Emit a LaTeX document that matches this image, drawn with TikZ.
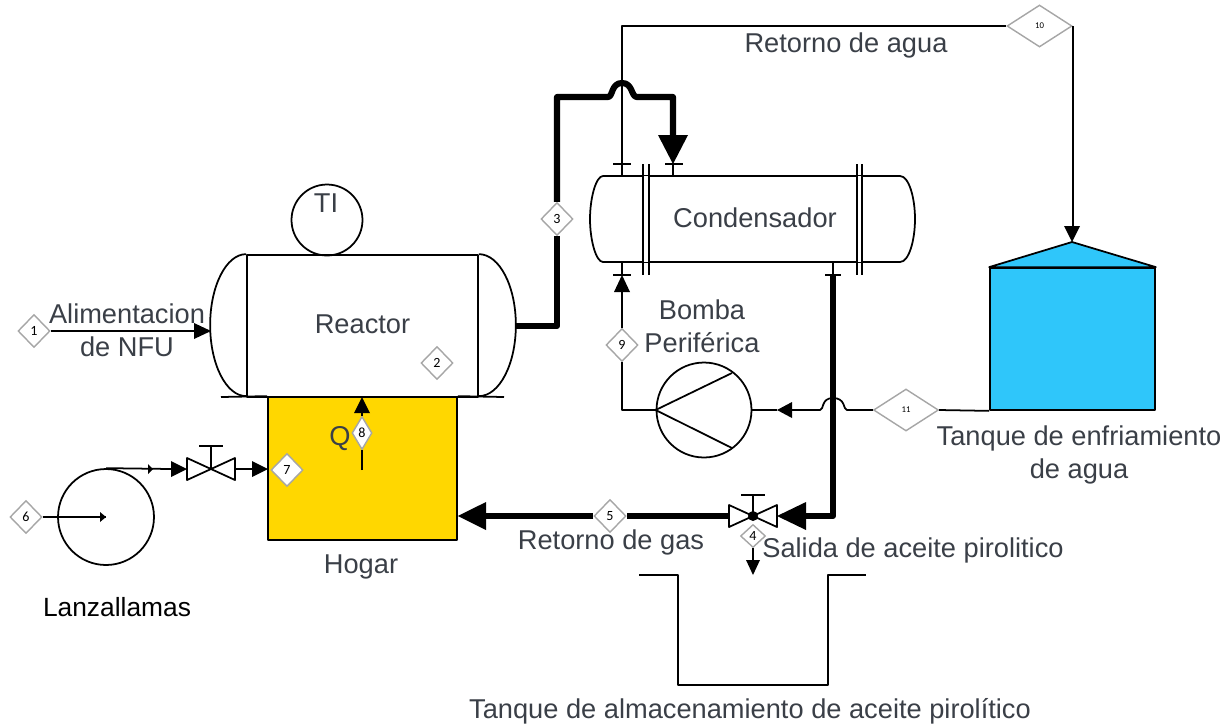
\documentclass[tikz,border=0pt]{standalone}
\usepackage{fontspec}
\setmainfont{Liberation Sans}
\newfontfamily\tagfont{Carlito}
\usetikzlibrary{shapes.geometric}
\definecolor{txtgray}{HTML}{3A3F47}
\definecolor{hogaryellow}{HTML}{FFD700}
\definecolor{tankblue}{HTML}{2FC6FA}
\tikzset{
  lbl/.style={font=\fontsize{15.5}{19}\selectfont,text=txtgray,align=center},
  tag/.style={diamond,draw=black!35,line width=0.8pt,fill=white,text=black,minimum width=0.64cm,minimum height=0.66cm,font=\tagfont\fontsize{8}{8}\selectfont},
  bigtag/.style={tag,minimum width=1.3cm,minimum height=0.84cm,font=\tagfont\fontsize{5}{5}\selectfont},
  thin pipe/.style={black,line width=1pt,line join=round},
  thick pipe/.style={black,line width=3.5pt,line join=round},
  vessel/.style={draw=black,line width=1pt,line join=round}
}
\begin{document}
\begin{tikzpicture}[x=0.02cm,y=0.02cm]
\tikzstyle{every node}+=[inner sep=0pt]
\useasboundingbox (0,0) rectangle (1231,-725);
\node [vessel,minimum width=4.62cm,minimum height=2.84cm,lbl,text depth=2.5pt] (reactor) at (362.5,-326) {Reactor};
\draw [vessel] (reactor.north west) arc (90:270:36 and 71);
\draw [vessel] (reactor.north east) arc (90:-90:37 and 71);
\node [vessel,fill=hogaryellow,minimum width=3.78cm,minimum height=2.86cm] (hogar) at (362.5,-468.5) {};
\draw [thin pipe] (221,-397) -- (hogar.north west);
\draw [thin pipe] (hogar.north east) -- (504,-397);
\node [vessel,circle,minimum size=1.42cm] (ti) at (327,-220) {};
\node [lbl] (tilabel) at (326,-203) {TI};
\node [vessel,circle,minimum size=1.92cm] (lanzallamas) at (106,-517) {};
\node [lbl] (hogarlabel) at (361,-567) {Hogar};
\node [lbl,text=black,font=\fontsize{15}{18}\selectfont] (lanzlabel) at (117,-607) {Lanzallamas};
\node [lbl] (alimlabel) at (127,-330) {Alimentacion\\de NFU};
\node [lbl] (qlabel) at (340,-439) {Q};
\node [lbl] (condensador) at (755,-218) {Condensador};
\draw [vessel] (603,-176) -- (900,-176) .. controls (909,-176) and (915,-198) .. (915,-219) .. controls (915,-240) and (909,-262) .. (900,-262) -- (603,-262) .. controls (596,-262) and (590,-240) .. (590,-219) .. controls (590,-198) and (596,-176) .. (603,-176) -- cycle;
\draw [white,line width=4pt] (646,-176) -- (646,-262);
\draw [white,line width=4pt] (859.5,-176) -- (859.5,-262);
\draw [black,line width=0.85pt] (643,-164) -- (643,-275);
\draw [black,line width=1.5pt] (649,-164) -- (649,-275);
\draw [black,line width=0.85pt] (857,-164) -- (857,-275);
\draw [black,line width=0.85pt] (862,-164) -- (862,-275);
\coordinate (nozzlea) at (622,-164);
\coordinate (nozzleb) at (673,-164);
\coordinate (nozzlec) at (622,-275);
\coordinate (nozzled) at (833,-275);
\draw [thin pipe] (nozzlea) -- (622,-176);
\draw [thin pipe] (613,-164) -- (631,-164);
\draw [thin pipe] (nozzleb) -- (673,-176);
\draw [thin pipe] (665,-164) -- (683,-164);
\draw [thin pipe] (nozzlec) -- (622,-262);
\draw [thin pipe] (613,-275) -- (631,-275);
\draw [thin pipe] (nozzled) -- (833,-262);
\draw [thin pipe] (825,-275) -- (841,-275);
\node [vessel,fill=tankblue,minimum width=3.3cm,minimum height=2.84cm] (tanque) at (1072.5,-339) {};
\draw [vessel,fill=tankblue] (tanque.north west) -- (1072,-242) -- (tanque.north east) -- cycle;
\coordinate (roof) at (1072,-242);
\node [lbl] (tanquelabel) at (1079,-455) {Tanque de enfriamiento\\de agua};
\node [lbl] (bombalabel) at (702,-326) {Bomba\\Periférica};
\node [vessel,circle,minimum size=1.9cm] (bomba) at (704,-410) {};
\draw [thin pipe] (bomba.west) -- (732,-373);
\draw [thin pipe] (bomba.west) -- (732,-448);
\node [lbl] (retaguatxt) at (846,-45) {Retorno de agua};
\node [lbl] (retgastxt) at (611,-542) {Retorno de gas};
\node [lbl] (salidatxt) at (913,-550) {Salida de aceite pirolitico};
\node [lbl] (almactxt) at (750,-711) {Tanque de almacenamiento de aceite pirolítico};
\node [tag] (tag1) at (34,-331) {1};
\node [tag] (tag2) at (437,-363) {2};
\node [tag] (tag3) at (557,-219) {3};
\node [tag] (tag5) at (610,-516) {5};
\node [tag] (tag6) at (26,-517) {6};
\node [tag] (tag7) at (287,-470) {7};
\node [tag,minimum width=0.4cm] (tag8) at (362,-433) {8};
\node [tag] (tag9) at (622,-345) {9};
\node [bigtag] (tag10) at (1039.5,-26) {10};
\node [bigtag] (tag11) at (906,-410) {11};
\coordinate (valvea) at (211,-469);
\coordinate (valveb) at (753,-516);
\draw [thin pipe] (valvea) ++(-24,11) -- ++(0,-22) -- ++(48,22) -- ++(0,-22) -- cycle;
\draw [thin pipe] (valvea) -- (211,-446);
\draw [thin pipe] (199,-446) -- (223,-446);
\draw [thin pipe] (valveb) ++(-24,11) -- ++(0,-22) -- ++(48,22) -- ++(0,-22) -- cycle;
\draw [thin pipe] (valveb) -- (753,-495);
\draw [thin pipe] (741,-495) -- (765,-495);
\fill [black] (valveb) circle (5);
\node [tag,minimum width=0.5cm,minimum height=0.46cm] (tag4) at (753,-536) {4};
\draw [thin pipe] (tag1.east) -- (194,-331);
\fill [black] (211,-331) -- (194,-323) -- (194,-339);
\draw [thin pipe] (tag6.east) -- (lanzallamas.center);
\fill [black] (106,-517) -- (100,-512) -- (100,-522);
\draw [thin pipe] (lanzallamas.north) -- (171,-469);
\fill [black] (153,-469) -- (148,-464) -- (148,-474);
\fill [black] (187,-469) -- (171,-461) -- (171,-477);
\draw [thin pipe] (235,-469) -- (252,-469);
\fill [black] (268,-469) -- (252,-461) -- (252,-477);
\draw [thin pipe] (362,-470) -- (tag8.south);
\draw [thin pipe] (tag8.north) -- (362,-413);
\fill [black] (362,-397) -- (354,-413) -- (370,-413);
\draw [thick pipe] (515,-326) -- (557,-326) -- (tag3.south);
\draw [thick pipe] (tag3.north) -- (557,-97) -- (608,-97) .. controls (613,-97) and (611,-83) .. (622,-83) .. controls (633,-83) and (631,-97) .. (637,-97) -- (673,-97) -- (673,-135);
\fill [black] (673,-164) -- (658,-135) -- (688,-135);
\draw [thin pipe] (nozzlea) -- (622,-26) -- (tag10.west);
\draw [thin pipe] (tag10.east) -- (tag10.east |- 0,-226);
\fill [black] (roof) -- (1064,-226) -- (1080,-226);
\draw [thin pipe] (tanque.south west) -- (tag11.east);
\draw [thin pipe] (tag11.west) -- (847,-410) .. controls (843,-410) and (846,-398) .. (833,-398) .. controls (821,-398) and (824,-410) .. (820,-410) -- (792,-410);
\fill [black] (777,-410) -- (792,-402) -- (792,-418);
\draw [thin pipe] (777,-410) -- (bomba.east);
\draw [thin pipe] (bomba.west) -- (622,-410) -- (tag9.south);
\draw [thin pipe] (tag9.north) -- (622,-292);
\fill [black] (nozzlec) -- (614,-292) -- (630,-292);
\draw [thick pipe] (nozzled) -- (833,-516) -- (806,-516);
\fill [black] (777,-516) -- (806,-502) -- (806,-530);
\draw [thick pipe] (729,-516) -- (tag5.east);
\draw [thick pipe] (tag5.west) -- (486,-516);
\fill [black] (hogar.east |- tag5) -- (486,-502) -- (486,-530);
\draw [thin pipe] (tag4.south) -- (753,-560);
\fill [black] (753,-575) -- (746,-560) -- (760,-560);
\draw [thin pipe] (639,-575) -- (678,-575) -- (678,-685) -- (828,-685) -- (828,-575) -- (866,-575);
\end{tikzpicture}
\end{document}
